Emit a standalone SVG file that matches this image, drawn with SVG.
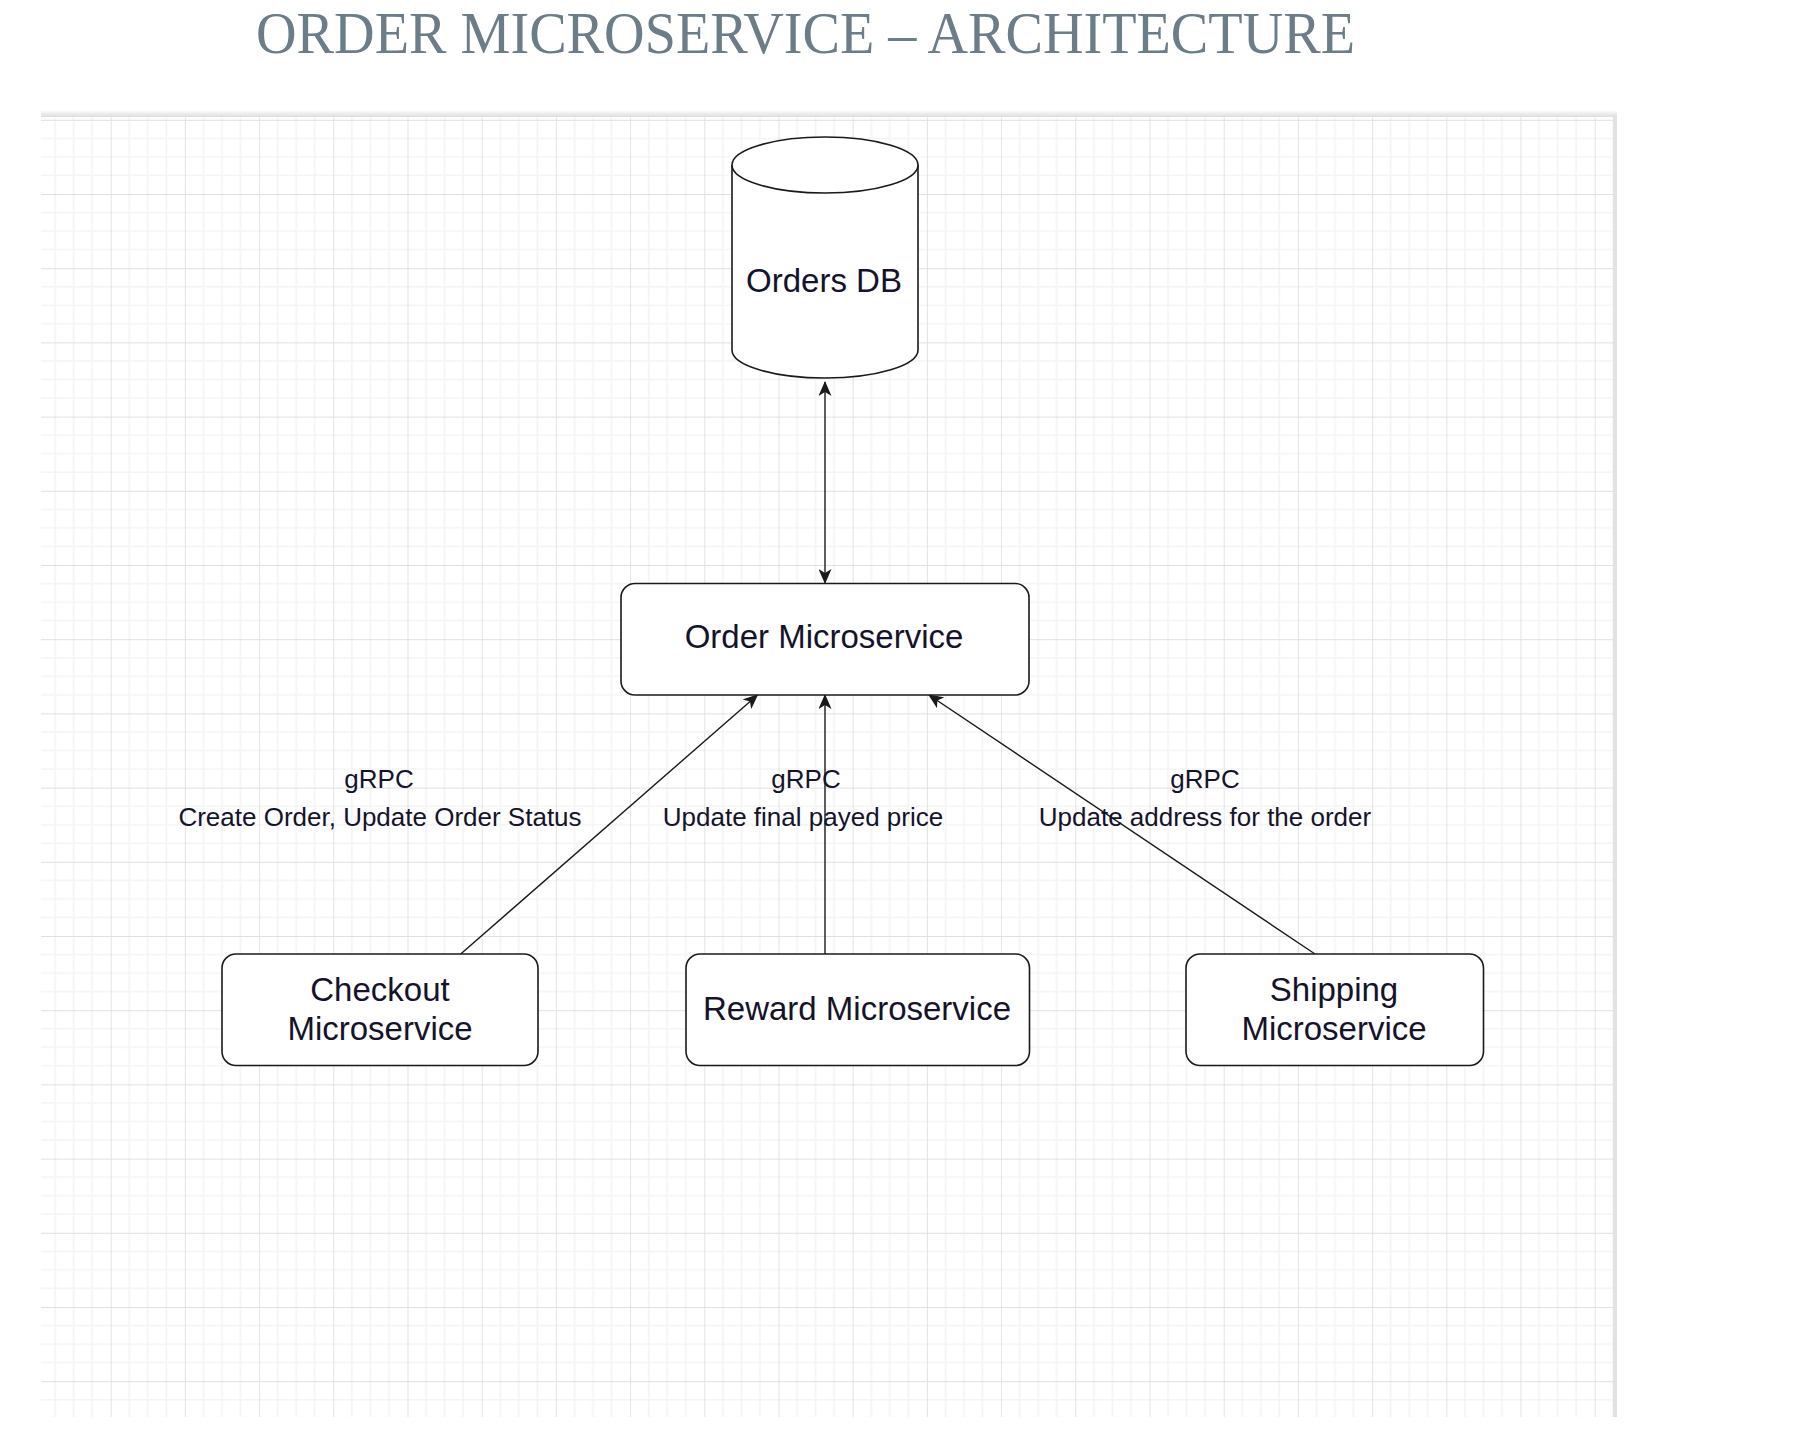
<svg xmlns="http://www.w3.org/2000/svg" width="1812" height="1432" viewBox="0 0 1812 1432">
  <style>
    .node { fill: #ffffff; stroke: #1a1a1a; stroke-width: 1.6; }
    .ntext { font-family: "Liberation Sans", Arial, sans-serif; font-size: 33px; fill: #15132b; text-anchor: middle; }
    .ltext { font-family: "Liberation Sans", Arial, sans-serif; font-size: 26px; fill: #15132b; text-anchor: middle; }
    .conn { fill: none; stroke: #1a1a1a; stroke-width: 1.4; }
    .title { font-family: "Liberation Serif", "DejaVu Serif", serif; font-size: 59px; fill: #6a7d89; }
  </style>
  <defs>
    <pattern id="grid" patternUnits="userSpaceOnUse" x="36.5" y="45.6" width="74.2" height="74.2">
      <rect width="74.2" height="74.2" fill="#ffffff"/>
      <g stroke="#f4f4f4" stroke-width="1.6">
        <line x1="18.55" y1="0" x2="18.55" y2="74.2"/>
        <line x1="37.1" y1="0" x2="37.1" y2="74.2"/>
        <line x1="55.65" y1="0" x2="55.65" y2="74.2"/>
        <line x1="0" y1="18.55" x2="74.2" y2="18.55"/>
        <line x1="0" y1="37.1" x2="74.2" y2="37.1"/>
        <line x1="0" y1="55.65" x2="74.2" y2="55.65"/>
      </g>
      <g stroke="#e0e0e0" stroke-width="1.8">
        <line x1="0" y1="0" x2="0" y2="74.2"/>
        <line x1="0" y1="0" x2="74.2" y2="0"/>
      </g>
    </pattern>
    <linearGradient id="topshadow" x1="0" y1="0" x2="0" y2="1">
      <stop offset="0" stop-color="#ffffff"/>
      <stop offset="1" stop-color="#dcdcdc"/>
    </linearGradient>
    <marker id="arrow" markerUnits="userSpaceOnUse" viewBox="0 0 15 13" markerWidth="15" markerHeight="13" refX="14" refY="6.5" orient="auto-start-reverse">
      <path d="M0,0 L15,6.5 L0,13 L4,6.5 Z" fill="#1a1a1a"/>
    </marker>
  </defs>

  <rect width="1812" height="1432" fill="#ffffff"/>

  <g id="title">
    <text class="title" x="256" y="53" textLength="1099" lengthAdjust="spacingAndGlyphs">ORDER MICROSERVICE – ARCHITECTURE</text>
  </g>

  <g id="canvas">
    <rect x="41" y="116" width="1574" height="1301" fill="url(#grid)"/>
    <rect x="41" y="110" width="1576" height="7" fill="url(#topshadow)"/>
    <rect x="1613" y="116" width="4" height="1301" fill="#e2e2e2"/>
  </g>

  <g id="connectors">
    <line class="conn" x1="825" y1="382" x2="825" y2="583" marker-start="url(#arrow)" marker-end="url(#arrow)"/>
    <line class="conn" x1="460.7" y1="954" x2="757.5" y2="695" marker-end="url(#arrow)"/>
    <line class="conn" x1="825" y1="954" x2="825" y2="695" marker-end="url(#arrow)"/>
    <line class="conn" x1="1315" y1="954" x2="929" y2="695" marker-end="url(#arrow)"/>
  </g>

  <g id="labels">
    <text class="ltext" x="379" y="788">gRPC</text>
    <text class="ltext" x="380" y="826">Create Order, Update Order Status</text>
    <text class="ltext" x="806" y="788">gRPC</text>
    <text class="ltext" x="803" y="826">Update final payed price</text>
    <text class="ltext" x="1205" y="788">gRPC</text>
    <text class="ltext" x="1205" y="826">Update address for the order</text>
  </g>

  <g id="orders-db">
    <path class="node" d="M732,165 L732,350 A93,28 0 0 0 918,350 L918,165 A93,28 0 0 0 732,165 Z"/>
    <path class="node" fill="none" d="M732,165 A93,28 0 0 0 918,165"/>
    <text class="ntext" x="824" y="292">Orders DB</text>
  </g>

  <g id="order-microservice">
    <rect class="node" x="621" y="583.5" width="408" height="111.5" rx="14" ry="14"/>
    <text class="ntext" x="824" y="648">Order Microservice</text>
  </g>

  <g id="checkout-microservice">
    <rect class="node" x="222" y="954" width="316" height="111.5" rx="14" ry="14"/>
    <text class="ntext" x="380" y="1001">Checkout</text>
    <text class="ntext" x="380" y="1040">Microservice</text>
  </g>

  <g id="reward-microservice">
    <rect class="node" x="686" y="954" width="343.5" height="111.5" rx="14" ry="14"/>
    <text class="ntext" x="857" y="1020">Reward Microservice</text>
  </g>

  <g id="shipping-microservice">
    <rect class="node" x="1186" y="954" width="297.5" height="111.5" rx="14" ry="14"/>
    <text class="ntext" x="1334" y="1001">Shipping</text>
    <text class="ntext" x="1334" y="1040">Microservice</text>
  </g>
</svg>
